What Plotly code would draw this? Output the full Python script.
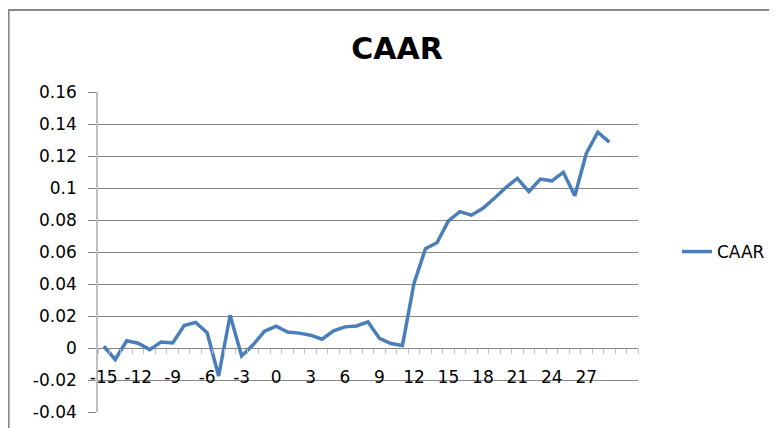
import plotly.graph_objects as go

days = list(range(-15, 30))
caar = [0.0011, -0.0072, 0.0045, 0.0030, -0.0010, 0.0038, 0.0032, 0.0140, 0.0160, 0.0095,
        -0.0175, 0.0205, -0.0050, 0.0020, 0.0105, 0.0137, 0.0100, 0.0093, 0.0080, 0.0055,
        0.0107, 0.0132, 0.0138, 0.0163, 0.0060, 0.0028, 0.0016, 0.0404, 0.0620, 0.0658,
        0.0794, 0.0852, 0.0830, 0.0873, 0.0936, 0.1003, 0.1060, 0.0977, 0.1056, 0.1045,
        0.1098, 0.0952, 0.1216, 0.1349, 0.1287]

x_tickvals = list(range(-15, 30, 3))
x_ticktext = [str(v).replace("\u2212", "-") for v in x_tickvals]
y_tickvals = [-0.04, -0.02, 0, 0.02, 0.04, 0.06, 0.08, 0.1, 0.12, 0.14, 0.16]
y_ticktext = ["-0.04", "-0.02", "0", "0.02", "0.04", "0.06", "0.08", "0.1", "0.12", "0.14", "0.16"]

FONT = "DejaVu Sans"
GRID = "#868686"
LIGHT = "#BFBFBF"

# page body has an 8px margin, so work in page pixels shifted by OFF
OFF = 8
W, H = 777 - OFF, 428 - OFF
L, R, T, B = 98 - OFF, 638 - OFF, 92 - OFF, 412 - OFF
pw, ph = R - L, B - T

def px(x):
    return (x - OFF - L) / pw

def py(y):
    return (B - (y - OFF)) / ph

fig = go.Figure()
fig.add_trace(go.Scatter(x=days, y=caar, mode="lines", name="CAAR",
                         line=dict(color="#4A7EBB", width=3.5)))

fig.update_layout(
    width=W, height=H,
    margin=dict(l=L, r=W - R, t=T, b=H - B, pad=0, autoexpand=False),
    paper_bgcolor="white", plot_bgcolor="white",
    font=dict(family=FONT, size=17, color="#000000"),
    title=dict(text="<b>CAAR</b>", x=(397 - OFF) / W, xanchor="center", xref="container",
               y=1 - (48 - OFF) / H, yanchor="middle", yref="container",
               font=dict(family=FONT, size=30, color="#000000")),
    showlegend=True,
    legend=dict(x=px(677), xanchor="left", y=py(252), yanchor="middle",
                font=dict(family=FONT, size=17), bgcolor="rgba(0,0,0,0)"),
    xaxis=dict(range=[-15.5, 31.5], anchor="free", position=0.2, automargin=False,
               tickmode="array", tickvals=x_tickvals, ticktext=x_ticktext,
               ticks="", showgrid=False, zeroline=False, showline=False,
               ticklabelstandoff=17,
               minor=dict(tickmode="linear", tick0=-15.5, dtick=1, ticks="outside",
                          ticklen=5, tickcolor=LIGHT, tickwidth=1, showgrid=False)),
    yaxis=dict(range=[-0.04, 0.16], tickmode="array", tickvals=y_tickvals, automargin=False,
               ticktext=y_ticktext, showgrid=True, gridcolor=GRID, gridwidth=1,
               zeroline=False, showline=True, linecolor=LIGHT, linewidth=1.5,
               ticks="outside", ticklen=8, tickcolor=GRID, tickwidth=1,
               ticklabelstandoff=8),
    shapes=[dict(type="rect", xref="paper", yref="paper",
                 x0=px(8.5), x1=px(800), y0=py(450), y1=py(10),
                 line=dict(color="#868686", width=2.2), fillcolor="rgba(0,0,0,0)",
                 layer="below")],
)

fig.write_html("out.html")
